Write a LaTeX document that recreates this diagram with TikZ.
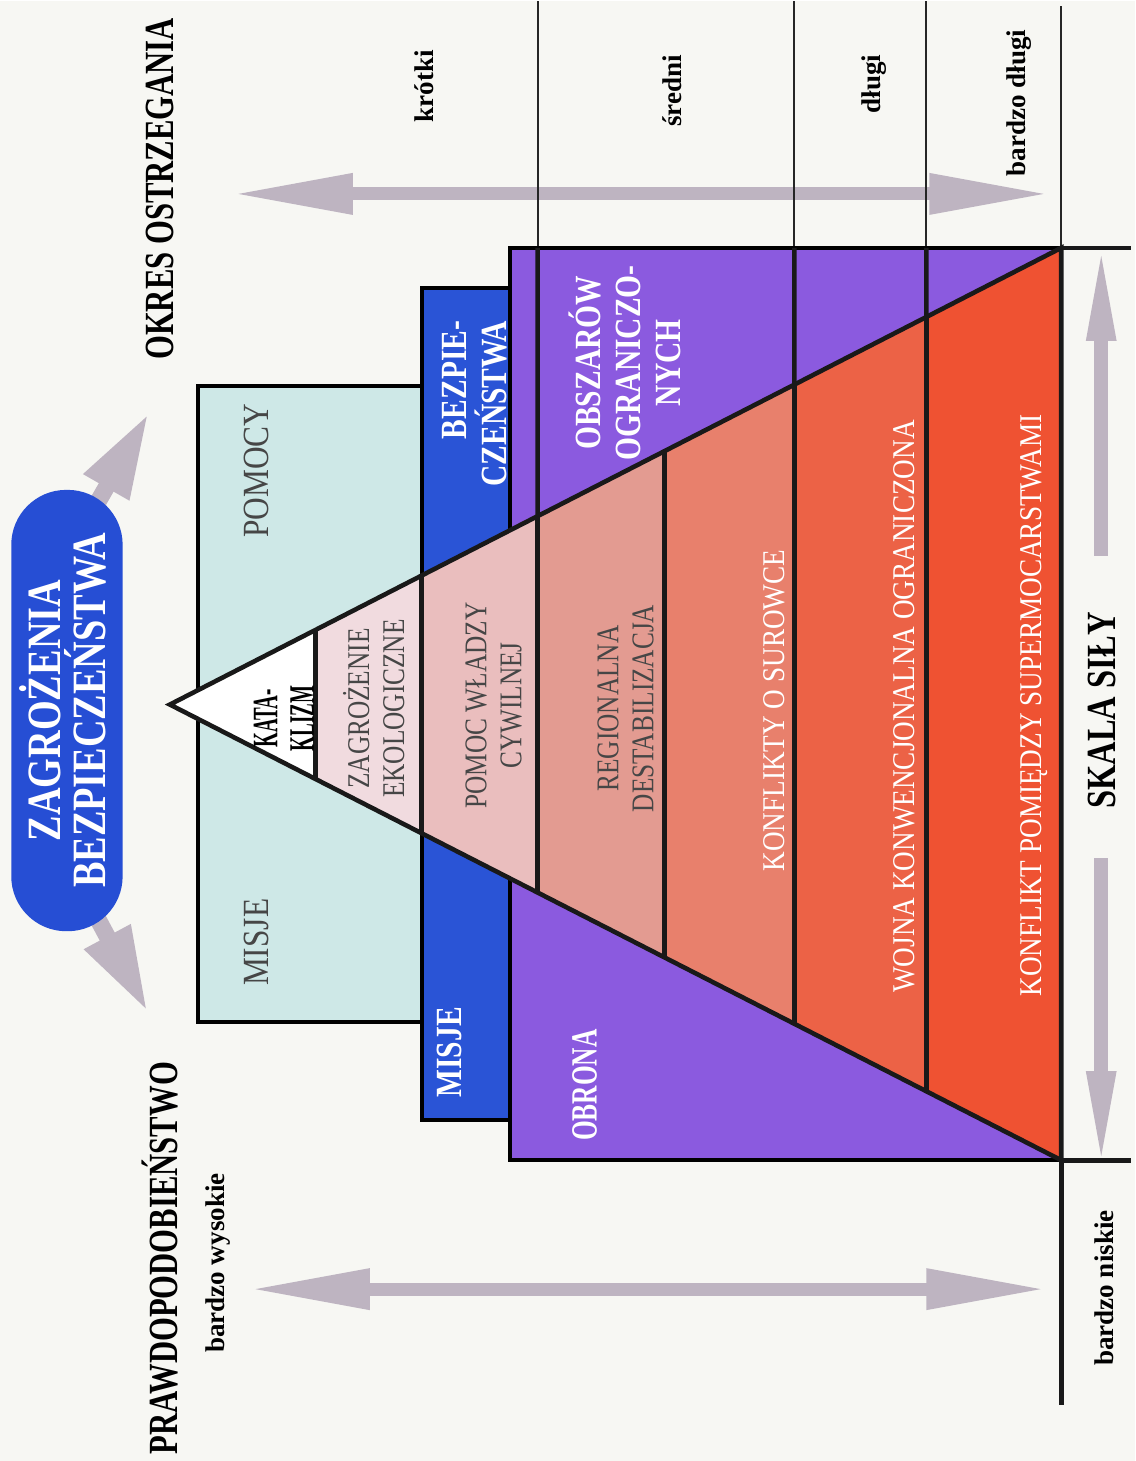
\documentclass[tikz,border=0pt]{standalone}
\usepackage{fontspec}
\setmainfont{Liberation Serif}
\usetikzlibrary{arrows.meta,positioning,calc}

\definecolor{paper}{RGB}{247,247,243}
\definecolor{misjecyan}{RGB}{206,232,231}
\definecolor{misjeblue}{RGB}{42,84,214}
\definecolor{pillblue}{RGB}{38,78,212}
\definecolor{obronaviolet}{RGB}{139,90,223}
\definecolor{scalegray}{RGB}{190,180,193}
\definecolor{labelgray}{RGB}{70,70,70}
\definecolor{bandA}{RGB}{241,219,223}
\definecolor{bandB}{RGB}{234,190,190}
\definecolor{bandC}{RGB}{227,155,145}
\definecolor{bandD}{RGB}{232,128,108}
\definecolor{bandE}{RGB}{236,98,70}
\definecolor{bandF}{RGB}{239,82,50}

\tikzset{
    boxline/.style={draw=black, line width=1.2pt},
    scaleline/.style={draw=black!85, line width=0.6pt},
    bandline/.style={draw=black!90, line width=1.3pt},
    gauge/.style={draw=scalegray, line width=0.13cm,
        {Triangle[length=1.2cm,width=0.38cm]}-{Triangle[length=1.2cm,width=0.38cm]}},
    halfgauge/.style={draw=scalegray, line width=0.14cm, -{Triangle[length=1cm,width=0.26cm]}},
    threatarrow/.style={draw=scalegray, line width=0.17cm, -{Triangle[length=0.86cm,width=0.48cm]}},
    vtext/.style={rotate=90, align=center, inner sep=0pt},
    headtext/.style={vtext, xscale=0.74, font=\fontsize{11.8}{12}\selectfont\bfseries},
    scaletext/.style={vtext, font=\fontsize{7.7}{9}\selectfont\bfseries},
    boxtext/.style={vtext, text=white, xscale=0.8, font=\fontsize{10.5}{11.4}\selectfont\bfseries},
    bandtext/.style={vtext, text=labelgray, xscale=0.8, font=\fontsize{9}{10}\selectfont},
    firetext/.style={vtext, text=white, xscale=0.86, font=\fontsize{9}{10}\selectfont},
    misjetext/.style={vtext, text=labelgray, xscale=0.85, font=\fontsize{10.5}{12}\selectfont}
}

\begin{document}
\begin{tikzpicture}[x=0.01cm,y=-0.01cm]
    \fill[paper] (0,0) rectangle (1136,1461);
    \coordinate (apex) at (170,704);
    \coordinate (btop) at (1062,247);
    \coordinate (bbot) at (1062,1160);

    % skale
    \coordinate (warnshort) at (233,193);
    \coordinate (warnlong) at (1050,193);
    \coordinate (probhigh) at (250,1289);
    \coordinate (problow) at (1047,1289);
    \coordinate (forceup) at (1102,555);
    \coordinate (forceuptip) at (1102,240);
    \coordinate (forcedown) at (1102,858);
    \coordinate (forcedowntip) at (1102,1171);
    \draw[gauge] (warnshort) -- (warnlong);
    \draw[gauge] (probhigh) -- (problow);
    \draw[halfgauge] (forceup) -- (forceuptip);
    \draw[halfgauge] (forcedown) -- (forcedowntip);
    \foreach \xx in {538,795,927}
        \draw[scaleline] (\xx,0) -- (\xx,247);
    \draw[scaleline] (1062,5) -- (btop);

    \filldraw[misjecyan, boxline] (198,385) rectangle (422,1022);
    \filldraw[misjeblue, boxline] (422,287) rectangle (510,1120);
    \filldraw[obronaviolet, boxline] (510,247) rectangle (btop |- bbot);

    \begin{scope}
        \clip (apex) -- (btop) -- (bbot) -- cycle;
        \foreach \xa/\xb/\band in {170/316/white,316/422/bandA,422/538/bandB,538/665/bandC,665/795/bandD,795/927/bandE,927/1062/bandF}
            \fill[\band] (\xa,0) rectangle (\xb,1461);
        \foreach \xx in {316,422,538,665,795,927}
            \draw[bandline] (\xx,0) -- (\xx,1461);
    \end{scope}
    \foreach \xx in {538,795,927}
        \draw[bandline] (\xx,247) -- ($(apex)!{(\xx-170)/892}!(btop)$);
    \draw[bandline] (apex) -- (btop) -- (bbot) -- cycle;
    \draw[bandline] (btop) -- (1132,247) (bbot) -- (1132,1160) (bbot) -- (1062,1405);

    % zagrozenia
    \path (67,710) node[minimum width=1.1cm, minimum height=4.4cm, inner sep=0pt] (threat) {};
    \coordinate (warntip) at (149,412);
    \coordinate (probtip) at (148,1012);
    \draw[threatarrow] ($(threat.north)+(31,12)$) -- (warntip);
    \draw[threatarrow] ($(threat.south)+(31,-12)$) -- (probtip);
    \fill[pillblue, rounded corners=0.55cm] (threat.south west) rectangle (threat.north east);
    \node[vtext, text=white, xscale=0.8, font=\fontsize{13.6}{11.6}\selectfont\bfseries] (threatlabel) at ($(threat)+(-4,0)$) {ZAGROŻENIA\\BEZPIECZEŃSTWA};

    \node[headtext] (warning) at (160,188) {OKRES OSTRZEGANIA};
    \node[headtext] (likelihood) at (160,1258) {PRAWDOPODOBIEŃSTWO};
    \node[headtext, xscale=1.06] (force) at (1103,710) {SKALA SIŁY};

    \node[scaletext] (veryhigh) at (218,1263) {bardzo wysokie};
    \node[scaletext] (short) at (425,85) {krótki};
    \node[scaletext] (medium) at (673,90) {średni};
    \node[scaletext] (long) at (875,83) {długi};
    \node[scaletext] (verylong) at (1020,102) {bardzo długi};
    \node[scaletext] (verylow) at (1105,1288) {bardzo niskie};

    \node[misjetext] (aidmis) at (257,942) {MISJE};
    \node[misjetext] (aidpom) at (257,470) {POMOCY};
    \node[boxtext] (secmis) at (450,1052) {MISJE};
    \node[boxtext, align=right] (secbez) at (475,403) {BEZPIE-\\CZEŃSTWA};
    \node[boxtext] (defzone) at (625,362) {OBSZARÓW\\OGRANICZO-\\NYCH};
    \node[boxtext, xscale=0.86] (defense) at (585,1085) {OBRONA};

    \node[vtext, xscale=0.53, font=\fontsize{10.2}{10.4}\selectfont\bfseries] (cataclysm) at (284,718) {KATA-\\KLIZM};
    \node[bandtext] (ecology) at (374,708) {ZAGROŻENIE\\EKOLOGICZNE};
    \node[bandtext] (civilaid) at (494,705) {POMOC WŁADZY\\CYWILNEJ};
    \node[bandtext] (regional) at (626,708) {REGIONALNA\\DESTABILIZACJA};
    \node[firetext] (resources) at (775,710) {KONFLIKTY O SUROWCE};
    \node[firetext] (limitedwar) at (905,706) {WOJNA KONWENCJONALNA OGRANICZONA};
    \node[firetext] (superpowers) at (1035,705) {KONFLIKT POMIĘDZY SUPERMOCARSTWAMI};
\end{tikzpicture}
\end{document}
